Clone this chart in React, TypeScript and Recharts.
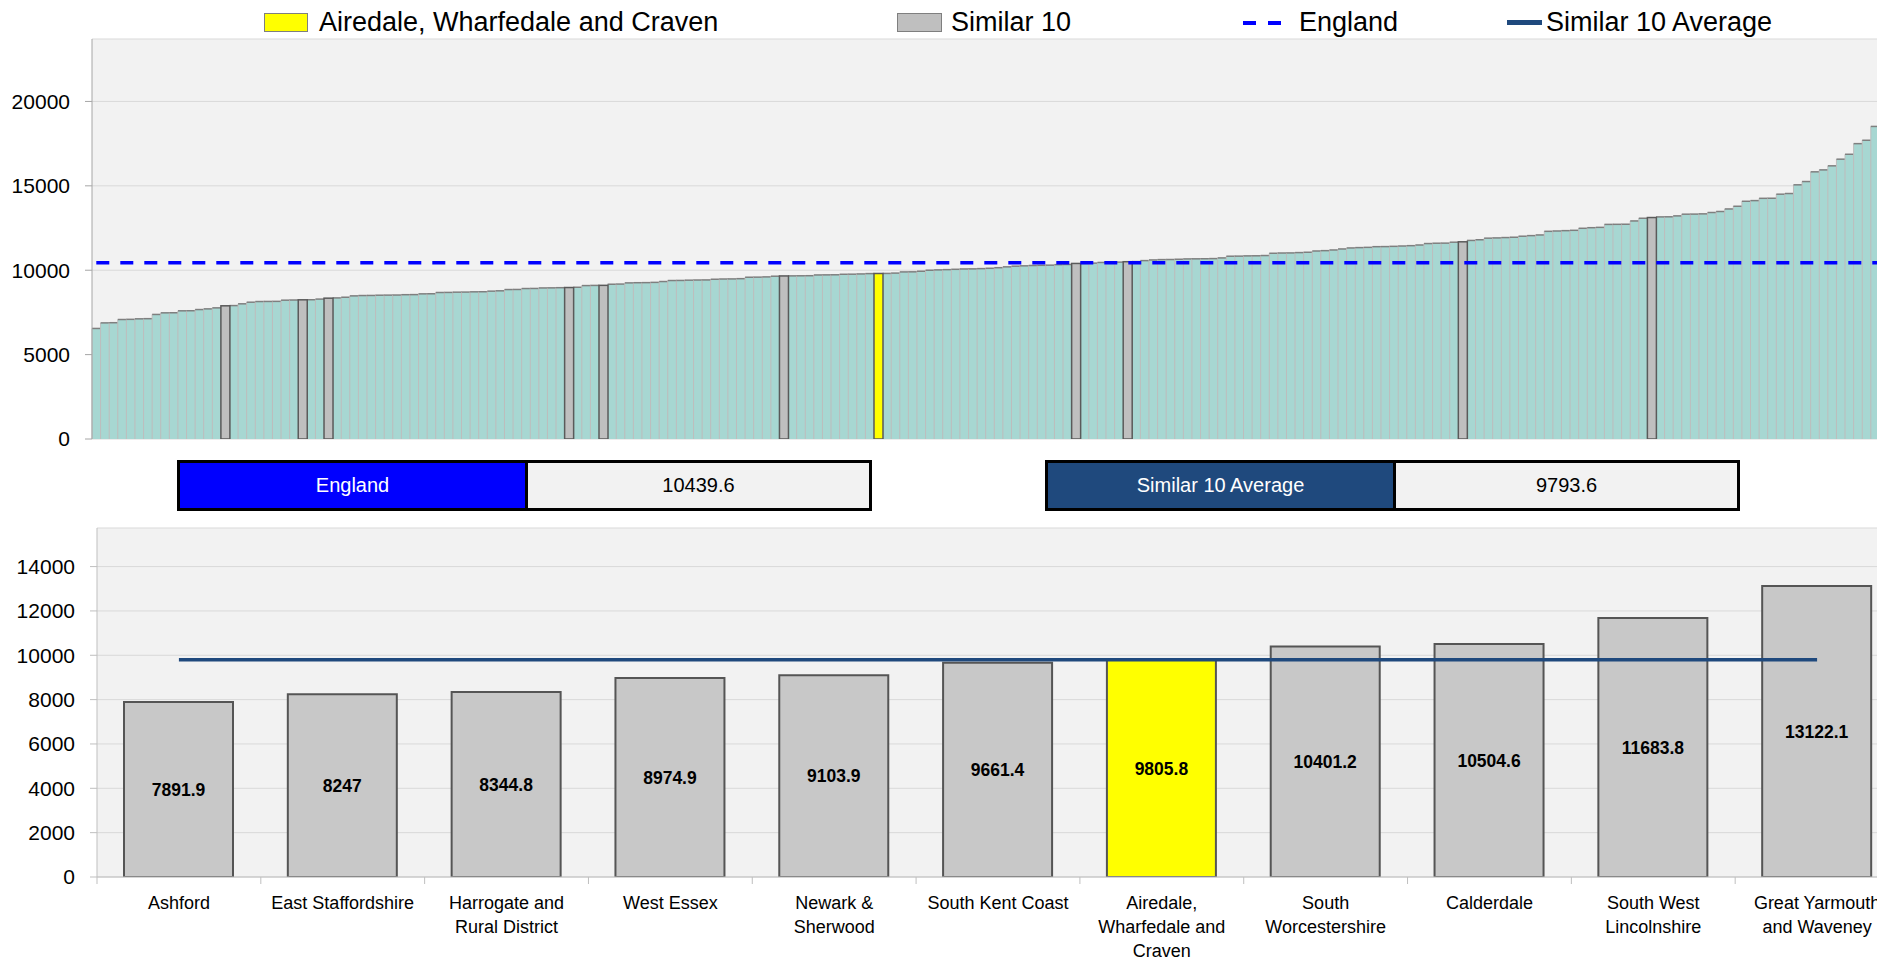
import React from "react";
import {
  ComposedChart,
  Bar,
  Line,
  XAxis,
  YAxis,
  CartesianGrid,
  Cell,
  LabelList,
} from "recharts";

const FONT = "'Liberation Sans', Arial, sans-serif";

// every CCG, sorted low to high
const CCG_VALUES = [
  6550, 6880, 6890, 7080, 7090, 7120, 7130, 7380, 7475, 7480,
  7595, 7600, 7670, 7710, 7770, 7891.9, 7905, 8010, 8105, 8145,
  8150, 8155, 8225, 8235, 8247, 8252, 8290, 8344.8, 8360, 8400,
  8480, 8500, 8505, 8520, 8525, 8530, 8550, 8555, 8600, 8605,
  8680, 8685, 8700, 8705, 8720, 8725, 8760, 8780, 8855, 8860,
  8915, 8920, 8950, 8955, 8965, 8974.9, 8990, 9090, 9100, 9103.9,
  9170, 9180, 9250, 9260, 9265, 9280, 9330, 9390, 9395, 9410,
  9420, 9425, 9465, 9480, 9485, 9500, 9585, 9590, 9605, 9645,
  9661.4, 9665, 9670, 9675, 9720, 9725, 9730, 9760, 9765, 9780,
  9800, 9805.8, 9810, 9830, 9900, 9905, 9940, 10000, 10020, 10035,
  10055, 10075, 10080, 10095, 10115, 10150, 10200, 10240, 10260, 10280,
  10290, 10300, 10330, 10340, 10401.2, 10405, 10420, 10460, 10465, 10480,
  10504.6, 10510, 10570, 10610, 10630, 10635, 10650, 10670, 10675, 10680,
  10690, 10730, 10830, 10835, 10850, 10855, 10870, 11005, 11020, 11025,
  11045, 11065, 11140, 11160, 11200, 11260, 11320, 11340, 11355, 11395,
  11400, 11415, 11435, 11455, 11495, 11580, 11600, 11605, 11660, 11683.8,
  11765, 11805, 11900, 11915, 11935, 11955, 12015, 12050, 12090, 12305,
  12325, 12345, 12365, 12485, 12520, 12540, 12715, 12720, 12725, 12920,
  13080, 13122.1, 13160, 13165, 13220, 13320, 13325, 13340, 13420, 13480,
  13630, 13790, 14085, 14125, 14260, 14265, 14505, 14545, 15060, 15255,
  15830, 15945, 16185, 16580, 16870, 17500, 17700, 18520, 19300,
];

const SIMILAR_NAMES = [
  "Ashford",
  "East Staffordshire",
  "Harrogate and Rural District",
  "West Essex",
  "Newark & Sherwood",
  "South Kent Coast",
  "Airedale, Wharfedale and Craven",
  "South Worcestershire",
  "Calderdale",
  "South West Lincolnshire",
  "Great Yarmouth and Waveney",
];
// axis labels, wrapped the way the axis shows them
const SIMILAR_TICK_LABELS = [
  "Ashford",
  "East Staffordshire",
  "Harrogate and\nRural District",
  "West Essex",
  "Newark &\nSherwood",
  "South Kent Coast",
  "Airedale,\nWharfedale and\nCraven",
  "South\nWorcestershire",
  "Calderdale",
  "South West\nLincolnshire",
  "Great Yarmouth\nand Waveney",
];
const SIMILAR_VALUES = [
  7891.9, 8247, 8344.8, 8974.9, 9103.9, 9661.4, 9805.8, 10401.2, 10504.6,
  11683.8, 13122.1,
];
const HOME_NAME = "Airedale, Wharfedale and Craven";
const ENGLAND_VALUE = 10439.6;
const SIMILAR_AVERAGE = 9793.6;

const TOP_TICKS = [0, 5000, 10000, 15000, 20000];
const BOTTOM_TICKS = [0, 2000, 4000, 6000, 8000, 10000, 12000, 14000];

const homeValue = SIMILAR_VALUES[SIMILAR_NAMES.indexOf(HOME_NAME)];

const rankData = CCG_VALUES.map((value, i) => ({
  id: i,
  value,
  england: ENGLAND_VALUE,
  kind:
    value === homeValue
      ? "home"
      : SIMILAR_VALUES.includes(value)
      ? "similar"
      : "other",
}));

const peerData = SIMILAR_NAMES.map((name, i) => ({
  name,
  value: SIMILAR_VALUES[i],
  avg: SIMILAR_AVERAGE,
}));

function PlainBar(props: any) {
  const { x, y, width, height, payload } = props;
  if (!payload || payload.kind !== "other" || !height) return <g />;
  return (
    <g>
      <rect x={x} y={y} width={width} height={height} fill="#A7D7D2" />
      <line x1={x} x2={x} y1={y} y2={y + height} stroke="#BDBDBD" />
      <line x1={x + width} x2={x + width} y1={y} y2={y + height} stroke="#BDBDBD" />
      <line x1={x} x2={x + width} y1={y} y2={y} stroke="#7F7F7F" strokeWidth={1.5} />
    </g>
  );
}

function MarkedBar(props: any) {
  const { x, y, width, height, payload } = props;
  if (!payload || payload.kind === "other" || !height) return <g />;
  return (
    <rect
      x={x}
      y={y}
      width={width}
      height={height}
      fill={payload.kind === "home" ? "#FFFF00" : "#BFBFBF"}
      stroke="#5A5A5A"
      strokeWidth={1.5}
    />
  );
}

function PeerTick(props: any) {
  const { x, y, payload } = props;
  const idx = props.index ?? SIMILAR_NAMES.indexOf(payload.value);
  const half = payload.offset ?? props.width / SIMILAR_NAMES.length / 2;
  const edge = x - half;
  const lines = (SIMILAR_TICK_LABELS[idx] ?? String(payload.value)).split("\n");
  return (
    <g>
      <line x1={edge} x2={edge} y1={y} y2={y + 7} stroke="#BFBFBF" />
      <text x={x} y={y + 31.5} textAnchor="middle" fill="#000" fontSize={18} fontFamily={FONT}>
        {lines.map((line, i) => (
          <tspan key={i} x={x} dy={i === 0 ? 0 : 24}>
            {line}
          </tspan>
        ))}
      </text>
    </g>
  );
}

const legendText: React.CSSProperties = {
  position: "absolute",
  top: 9,
  fontSize: 27,
  lineHeight: "27px",
  color: "#000",
  whiteSpace: "nowrap",
};

function StatBox({ left, label, value, color }: { left: number; label: string; value: number; color: string }) {
  const cell: React.CSSProperties = {
    display: "flex",
    alignItems: "center",
    justifyContent: "center",
    fontSize: 20,
  };
  return (
    <div
      style={{
        position: "absolute",
        left,
        top: 460,
        width: 695,
        height: 51,
        border: "3px solid #000",
        boxSizing: "border-box",
        display: "flex",
      }}
    >
      <div style={{ ...cell, width: 345, background: color, color: "#fff", borderRight: "3px solid #000" }}>
        {label}
      </div>
      <div style={{ ...cell, flex: 1, background: "#F2F2F2", color: "#000" }}>{value}</div>
    </div>
  );
}

export default function App() {
  return (
    <div
      style={{
        position: "fixed",
        left: 0,
        top: 0,
        width: 1877,
        height: 960,
        overflow: "hidden",
        background: "#fff",
        fontFamily: FONT,
      }}
    >
      {/* legend */}
      <div style={{ position: "absolute", left: 264, top: 13, width: 42, height: 17, background: "#FFFF00", border: "1px solid #7F7F7F" }} />
      <span style={{ ...legendText, left: 319 }}>Airedale, Wharfedale and Craven</span>
      <div style={{ position: "absolute", left: 897, top: 13, width: 43, height: 17, background: "#BFBFBF", border: "1px solid #7F7F7F" }} />
      <span style={{ ...legendText, left: 951 }}>Similar 10</span>
      <div style={{ position: "absolute", left: 1243, top: 21, width: 13, height: 4, background: "#0000FF" }} />
      <div style={{ position: "absolute", left: 1268, top: 21, width: 13, height: 4, background: "#0000FF" }} />
      <span style={{ ...legendText, left: 1299 }}>England</span>
      <div style={{ position: "absolute", left: 1507, top: 19.5, width: 35, height: 5, background: "#1F497D" }} />
      <span style={{ ...legendText, left: 1546 }}>Similar 10 Average</span>

      {/* all CCGs ranked */}
      <div style={{ position: "absolute", left: 0, top: 0 }}>
        <ComposedChart
          width={1888}
          height={460}
          data={rankData}
          margin={{ top: 39, right: 0, bottom: 21, left: 0 }}
          barCategoryGap={0}
          barGap={0}
        >
          <CartesianGrid xAxisId="base" vertical={false} stroke="#D9D9D9" fill="#F2F2F2" />
          <XAxis
            xAxisId="base"
            dataKey="id"
            height={0}
            tick={false}
            tickLine={false}
            axisLine={{ stroke: "#D9D9D9" }}
          />
          <XAxis xAxisId="mark" dataKey="id" hide />
          <YAxis
            width={92}
            domain={[0, 23700]}
            ticks={TOP_TICKS}
            allowDataOverflow
            tickSize={7}
            tickMargin={15}
            axisLine={{ stroke: "#A6A6A6" }}
            tickLine={{ stroke: "#A6A6A6" }}
            tick={{ fill: "#000", fontSize: 21, fontFamily: FONT }}
          />
          <Bar xAxisId="base" dataKey="value" shape={PlainBar} isAnimationActive={false} />
          <Bar xAxisId="mark" dataKey="value" shape={MarkedBar} isAnimationActive={false} />
          <Line
            xAxisId="base"
            dataKey="england"
            stroke="#0000FF"
            strokeWidth={3.5}
            strokeDasharray="13 11"
            dot={false}
            activeDot={false}
            isAnimationActive={false}
          />
        </ComposedChart>
      </div>

      <StatBox left={177} label="England" value={ENGLAND_VALUE} color="#0000FF" />
      <StatBox left={1045} label="Similar 10 Average" value={SIMILAR_AVERAGE} color="#1F497D" />

      {/* similar 10 comparison */}
      <div style={{ position: "absolute", left: 0, top: 520 }}>
        <ComposedChart
          width={1900}
          height={440}
          data={peerData}
          margin={{ top: 8, right: 1, bottom: 0, left: 0 }}
        >
          <CartesianGrid vertical={false} stroke="#D9D9D9" fill="#F2F2F2" />
          <XAxis
            dataKey="name"
            height={83}
            interval={0}
            tickLine={false}
            tickSize={0}
            tickMargin={0}
            axisLine={{ stroke: "#BFBFBF" }}
            tick={<PeerTick />}
          />
          <YAxis
            width={97}
            domain={[0, 15740]}
            ticks={BOTTOM_TICKS}
            allowDataOverflow
            tickSize={7}
            tickMargin={15}
            axisLine={{ stroke: "#BFBFBF" }}
            tickLine={{ stroke: "#BFBFBF" }}
            tick={{ fill: "#000", fontSize: 21, fontFamily: FONT }}
          />
          <Bar dataKey="value" barSize={109} stroke="#555555" strokeWidth={2} isAnimationActive={false}>
            {peerData.map((d) => (
              <Cell key={d.name} fill={d.name === HOME_NAME ? "#FFFF00" : "#C8C8C8"} />
            ))}
            <LabelList
              dataKey="value"
              position="center"
              fill="#000"
              fontSize={17.5}
              fontWeight={700}
              fontFamily={FONT}
            />
          </Bar>
          <Line
            dataKey="avg"
            stroke="#1F497D"
            strokeWidth={3.5}
            dot={false}
            activeDot={false}
            isAnimationActive={false}
          />
        </ComposedChart>
      </div>
    </div>
  );
}
